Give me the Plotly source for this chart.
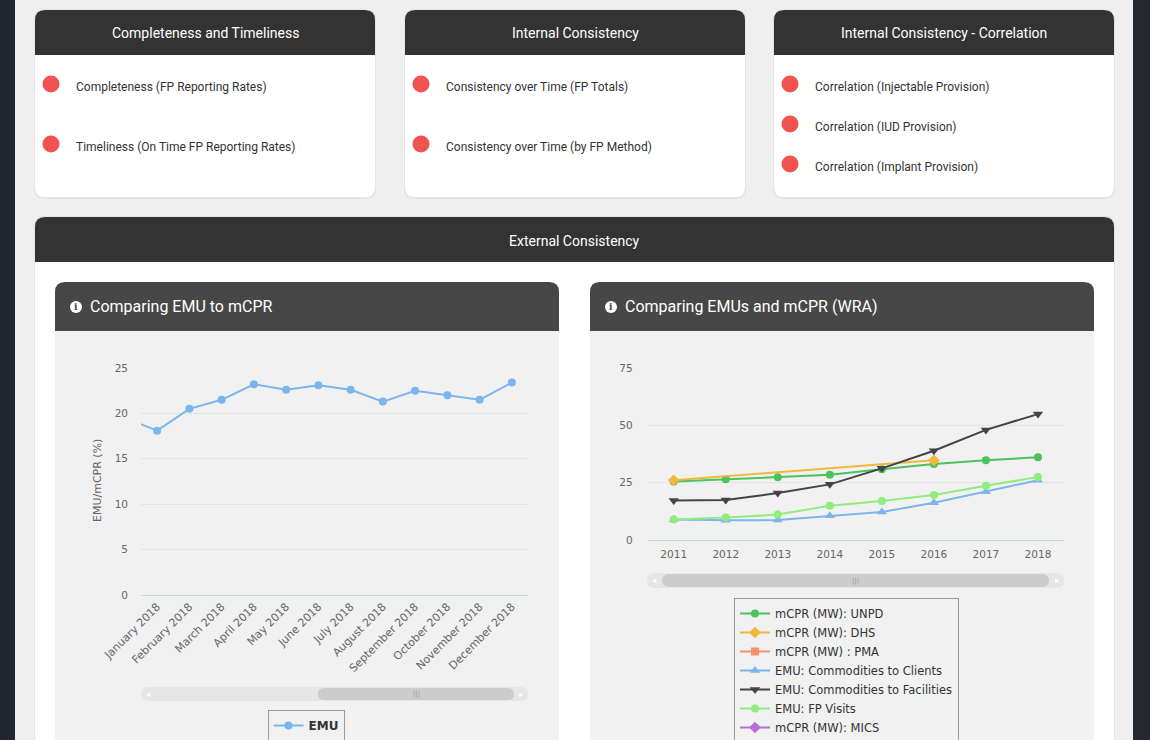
import plotly.graph_objects as go

W, H = 1150, 740

# --- chart data ---
months = ["December 2017", "January 2018", "February 2018", "March 2018", "April 2018",
          "May 2018", "June 2018", "July 2018", "August 2018", "September 2018",
          "October 2018", "November 2018", "December 2018"]
emu_monthly = [19.5, 18.1, 20.5, 21.5, 23.2, 22.6, 23.1, 22.6, 21.3, 22.5, 22.0, 21.5, 23.4]

years = [2011, 2012, 2013, 2014, 2015, 2016, 2017, 2018]
mcpr_unpd = [25.5, 26.5, 27.4, 28.5, 30.9, 33.2, 34.8, 36.1]
mcpr_dhs = [26.1, None, None, None, None, 34.8, None, None]
mcpr_pma = [None] * 8
emu_clients = [9.0, 8.6, 8.7, 10.6, 12.2, 16.3, 21.1, 26.1]
emu_facilities = [17.3, 17.5, 20.5, 24.3, 31.3, 39.0, 48.1, 55.0]
emu_visits = [9.0, 9.8, 11.1, 15.0, 17.0, 19.7, 23.7, 27.5]
mcpr_mics = [None] * 8

cards = [
    ("Completeness and Timeliness",
     ["Completeness (FP Reporting Rates)", "Timeliness (On Time FP Reporting Rates)"]),
    ("Internal Consistency",
     ["Consistency over Time (FP Totals)", "Consistency over Time (by FP Method)"]),
    ("Internal Consistency - Correlation",
     ["Correlation (Injectable Provision)", "Correlation (IUD Provision)",
      "Correlation (Implant Provision)"]),
]


def px(x):
    return x / W


def py(y):
    return 1 - y / H


def rbox(x0, y0, x1, y1, rt, rb):
    return (f"M{px(x0 + rt)},{py(y0)} L{px(x1 - rt)},{py(y0)} "
            f"Q{px(x1)},{py(y0)} {px(x1)},{py(y0 + rt)} L{px(x1)},{py(y1 - rb)} "
            f"Q{px(x1)},{py(y1)} {px(x1 - rb)},{py(y1)} L{px(x0 + rb)},{py(y1)} "
            f"Q{px(x0)},{py(y1)} {px(x0)},{py(y1 - rb)} L{px(x0)},{py(y0 + rt)} "
            f"Q{px(x0)},{py(y0)} {px(x0 + rt)},{py(y0)} Z")


shapes = []
annots = []


def box(x0, y0, x1, y1, rt, rb, color):
    shapes.append(dict(type="path", xref="paper", yref="paper", layer="below",
                       path=rbox(x0, y0, x1, y1, rt, rb), fillcolor=color,
                       line=dict(width=0)))


def text(x, y, s, size, color, anchor="left", family="Roboto", **kw):
    if anchor == "left":
        x -= 2  # annotation padding
    annots.append(dict(x=px(x), y=py(y), xref="paper", yref="paper", text=s,
                       showarrow=False, xanchor=anchor, yanchor="middle",
                       font=dict(family=family, size=size, color=color), **kw))


def dot(cx, cy, r, color):
    shapes.append(dict(type="circle", xref="paper", yref="paper", layer="below",
                       x0=px(cx - r), x1=px(cx + r), y0=py(cy - r), y1=py(cy + r),
                       fillcolor=color, line=dict(width=0)))


# side bars
shapes.append(dict(type="rect", xref="paper", yref="paper", layer="below",
                   x0=0, x1=px(15), y0=0, y1=1, fillcolor="#1f2630", line=dict(width=0)))
shapes.append(dict(type="rect", xref="paper", yref="paper", layer="below",
                   x0=px(1133), x1=1, y0=0, y1=1, fillcolor="#242a32", line=dict(width=0)))

# top cards
card_x = [35, 405, 774]
for (title, items), cx in zip(cards, card_x):
    box(cx - 1, 9, cx + 341, 199, 11, 11, "#e4e4e4")
    box(cx, 10, cx + 340, 197, 10, 10, "#ffffff")
    box(cx, 10, cx + 340, 55, 10, 0, "#333333")
    text(cx + 170, 33, title, 14, "#ffffff", anchor="center")
    step = 60 if len(items) == 2 else 40
    for i, it in enumerate(items):
        yy = 84 + i * step
        dot(cx + 16, yy, 8.5, "#ef5350")
        text(cx + 41, yy + 3, it, 12, "#333333")

# external consistency panel
box(34, 216, 1115, 760, 11, 0, "#e4e4e4")
box(35, 217, 1114, 760, 10, 0, "#ffffff")
box(35, 217, 1114, 262, 10, 0, "#333333")
text(574.5, 241, "External Consistency", 14, "#ffffff", anchor="center")

for x0, ttl in [(55, "Comparing EMU to mCPR"), (590, "Comparing EMUs and mCPR (WRA)")]:
    box(x0, 282, x0 + 504, 760, 10, 0, "#f1f1f1")
    box(x0, 282, x0 + 504, 331, 10, 0, "#474747")
    dot(x0 + 21, 307, 6, "#ffffff")
    text(x0 + 21, 307, "<b>i</b>", 9, "#474747", anchor="center", family="DejaVu Serif")
    text(x0 + 35, 306, ttl, 16, "#ffffff")

# scrollbars
for tx0, tx1, ty0, ty1, hx0, hx1 in [(141, 528, 687, 701, 318, 514),
                                     (647, 1064, 573, 588, 662, 1049)]:
    r = (ty1 - ty0) / 2
    box(tx0, ty0, tx1, ty1, r, r, "#e6e6e6")
    box(hx0, ty0 + 1, hx1, ty1 - 1, r - 1, r - 1, "#cccccc")
    text((hx0 + hx1) / 2, (ty0 + ty1) / 2, "|||", 7, "#999999", anchor="center",
         family="DejaVu Sans")
    text(tx0 + 7, (ty0 + ty1) / 2, "◂", 8, "#ffffff", anchor="center", family="DejaVu Sans")
    text(tx1 - 7, (ty0 + ty1) / 2, "▸", 8, "#ffffff", anchor="center", family="DejaVu Sans")

# axis title of left chart
text(97, 481, "EMU/mCPR (%)", 11, "#666666", anchor="center", family="DejaVu Sans",
     textangle=-90)

fig = go.Figure()

fig.add_trace(go.Scatter(x=months, y=emu_monthly, name="EMU", mode="lines+markers",
                         line=dict(color="#7cb5ec", width=2),
                         marker=dict(size=8, color="#7cb5ec"),
                         xaxis="x", yaxis="y", legend="legend"))

series = [
    ("mCPR (MW): UNPD", mcpr_unpd, "#4cc25e", "circle", 8),
    ("mCPR (MW): DHS", mcpr_dhs, "#f0b83c", "diamond", 9),
    ("mCPR (MW) : PMA", mcpr_pma, "#f8906c", "square", 8),
    ("EMU: Commodities to Clients", emu_clients, "#7cb5ec", "triangle-up", 9),
    ("EMU: Commodities to Facilities", emu_facilities, "#434348", "triangle-down", 9),
    ("EMU: FP Visits", emu_visits, "#90ed7d", "circle", 8),
    ("mCPR (MW): MICS", mcpr_mics, "#b46ed6", "diamond", 9),
]
for name, vals, col, sym, sz in series:
    fig.add_trace(go.Scatter(x=years, y=vals, name=name, mode="lines+markers",
                             connectgaps=True, line=dict(color=col, width=2),
                             marker=dict(size=sz, color=col, symbol=sym),
                             xaxis="x2", yaxis="y2", legend="legend2"))

tick_font = dict(family="DejaVu Sans", size=10.5, color="#666666")

fig.update_layout(
    width=W, height=H,
    margin=dict(l=0, r=0, t=0, b=0, autoexpand=False),
    paper_bgcolor="#efefef",
    plot_bgcolor="rgba(0,0,0,0)",
    shapes=shapes,
    annotations=annots,
    xaxis=dict(domain=[px(141), px(528)], anchor="y", type="category",
               range=[0.5, 12.5], tickangle=-45, showgrid=False, ticks="",
               showline=True, linecolor="#ccd6eb", linewidth=1,
               tickfont=dict(family="DejaVu Sans", size=11, color="#666666")),
    yaxis=dict(domain=[py(595), py(368)], anchor="x", range=[0, 25], dtick=5,
               gridcolor="#e4e4e4", zeroline=False, tickfont=tick_font,
               ticklabelstandoff=12),
    xaxis2=dict(domain=[px(647.7), px(1064)], anchor="y2", range=[2010.5, 2018.5],
                dtick=1, showgrid=False, ticks="", showline=True,
                linecolor="#ccd6eb", linewidth=1, tickfont=tick_font,
                ticklabelstandoff=4),
    yaxis2=dict(domain=[py(540), py(368.3)], anchor="x2", range=[0, 75], dtick=25,
                gridcolor="#e4e4e4", zeroline=False, tickfont=tick_font,
                ticklabelstandoff=14),
    legend=dict(x=px(306), y=py(710), xanchor="center", yanchor="top",
                bordercolor="#999999", borderwidth=1, bgcolor="rgba(0,0,0,0)",
                font=dict(family="DejaVu Sans", size=12, color="#333333", weight="bold"),
                itemwidth=30),
    legend2=dict(x=px(734), y=py(598), xanchor="left", yanchor="top",
                 bordercolor="#999999", borderwidth=1, bgcolor="rgba(0,0,0,0)",
                 font=dict(family="DejaVu Sans", size=11.5, color="#333333"),
                 itemwidth=30, tracegroupgap=0),
    showlegend=True,
)

fig.write_html("out.html", config={"displayModeBar": False},
               post_script="document.body.style.margin='0';")
